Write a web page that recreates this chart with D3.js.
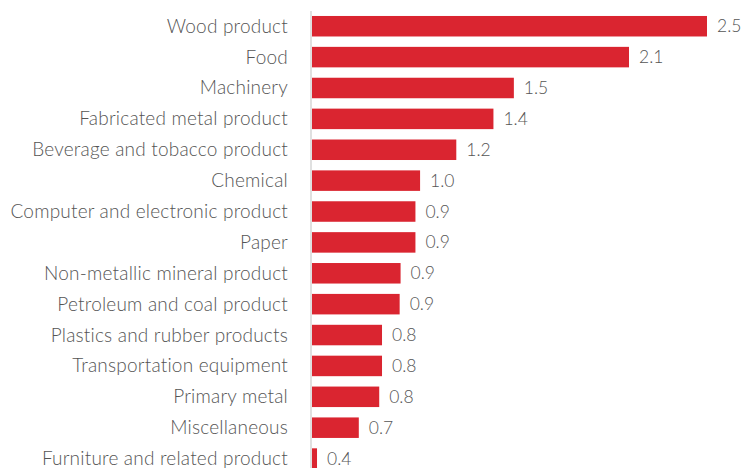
<!DOCTYPE html>
<html><head><meta charset="utf-8">
<script src="https://cdn.jsdelivr.net/npm/d3@7"></script>
<style>
html,body{margin:0;padding:0;background:#fff;overflow:hidden;}
svg{display:block;}
text{font-family:Lato,"Open Sans",sans-serif;font-weight:300;fill:#555;}
</style></head><body>
<svg id="chart" width="742" height="468"></svg>
<script>
const categories = ["Wood product","Food","Machinery","Fabricated metal product","Beverage and tobacco product","Chemical","Computer and electronic product","Paper","Non-metallic mineral product","Petroleum and coal product","Plastics and rubber products","Transportation equipment","Primary metal","Miscellaneous","Furniture and related product"];
const values = [2.50, 2.08, 1.46, 1.35, 1.15, 0.955, 0.93, 0.93, 0.85, 0.845, 0.75, 0.75, 0.735, 0.625, 0.40];
const valueLabels = ["2.5","2.1","1.5","1.4","1.2","1.0","0.9","0.9","0.9","0.9","0.8","0.8","0.8","0.7","0.4"];

const svg = d3.select("#chart");
const x = d3.scaleLinear().domain([0.373, 2.5]).range([312, 707]);
const y = d3.scaleBand().domain(categories).range([5.6, 479.2]).paddingInner(0.336).paddingOuter(0.336);

svg.append("line").attr("x1",311).attr("x2",311).attr("y1",11).attr("y2",468)
  .attr("stroke","#e0e0e0").attr("stroke-width",2);

svg.selectAll("rect.bar").data(categories).join("rect").attr("class","bar")
  .attr("x", x(0.373)).attr("y", d=>y(d))
  .attr("width", (d,i)=>x(values[i])-x(0.373)).attr("height", y.bandwidth())
  .attr("fill","#da2530");

svg.selectAll("text.cat").data(categories).join("text").attr("class","cat")
  .attr("x",288).attr("y", d=>y(d)+y.bandwidth()/2+6.5)
  .attr("text-anchor","end").attr("font-size",19).attr("letter-spacing","0.2px").text(d=>d);

svg.selectAll("text.val").data(categories).join("text").attr("class","val")
  .attr("x",(d,i)=>x(values[i])+10).attr("y", d=>y(d)+y.bandwidth()/2+6)
  .attr("font-size",17.5).text((d,i)=>valueLabels[i]);
</script></body></html>
